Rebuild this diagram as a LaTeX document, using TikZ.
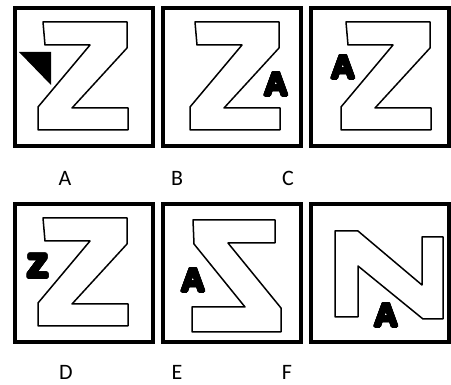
\documentclass[tikz,border=0pt]{standalone}
\usepackage{fontspec}
\usepackage[copies]{contour}
\setmainfont{Carlito}
\newfontfamily\heavyfont{Liberation Sans Bold}
\contourlength{1.4pt}
\contournumber{24}

\begin{document}
\begin{tikzpicture}
      [x=1pt, y=-1pt,
       frame/.style={draw, line width=4pt, minimum size=138pt, inner sep=0pt},
       outline/.style={draw, line width=1.5pt, line join=round},
       heavy letter/.style={inner sep=0pt, font=\heavyfont\fontsize{33}{33}\selectfont},
       option label/.style={inner sep=0pt, font=\fontsize{22}{22}\selectfont}]
      \useasboundingbox (0,0) rectangle (451,385);

      % the six frames
      \node[frame] (boxA) at (84,77) {};
      \node[frame] (boxB) at (232,77) {};
      \node[frame] (boxC) at (380,77) {};
      \node[frame] (boxD) at (84,273) {};
      \node[frame] (boxE) at (232,273) {};
      \node[frame] (boxF) at (380,273) {};

      % big Z outlines
      \foreach \b/\dx in {boxA/0, boxB/4, boxC/7, boxD/0}
         \draw[outline, shift={(\b.center)}, xshift=\dx]
            (-41,-55) -- (43,-55) -- (43,-29) -- (-12,31) -- (44,31) -- (44,53)
            -- (-46,53) -- (-46,30) -- (6,-32) -- (-39,-32) -- cycle;

      % mirrored Z
      \draw[outline, shift={(boxE.center)}]
         (-39,-53) -- (43,-53) -- (43,-30) -- (-4,-30) -- (49,35) -- (49,59)
         -- (-40,59) -- (-40,34) -- (13,34) -- (-38,-29) -- cycle;

      % N
      \draw[outline, shift={(boxF.center)}]
         (-45,-42) -- (-22,-42) -- (42,12) -- (42,-36) -- (63,-36) -- (63,46)
         -- (43,46) -- (-22,-7) -- (-22,44) -- (-45,44) -- cycle;

      % small marks
      \fill (19,52) -- (51,52) -- (51,85) -- cycle;
      \node[heavy letter] (smallB) at (276,85) {\contour{black}{A}};
      \node[heavy letter] (smallC) at (343,68) {\contour{black}{A}};
      \node[heavy letter, font=\heavyfont\fontsize{44}{44}\selectfont] (smallD) at (38,267) {\contour{black}{z}};
      \node[heavy letter] (smallE) at (193,281) {\contour{black}{A}};
      \node[heavy letter] (smallF) at (386,316) {\contour{black}{A}};

      % answer labels
      \node[option label] (labA) at (65,178) {A};
      \node[option label] (labB) at (177,178) {B};
      \node[option label] (labC) at (288,178) {C};
      \node[option label] (labD) at (66,372) {D};
      \node[option label] (labE) at (177,372) {E};
      \node[option label] (labF) at (287,372) {F};
   \end{tikzpicture}
\end{document}
